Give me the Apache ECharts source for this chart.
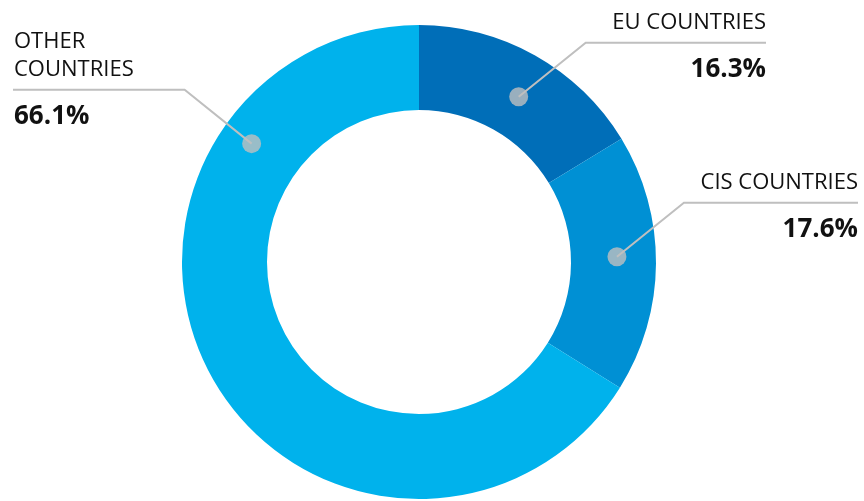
<!DOCTYPE html>
<html><head><meta charset="utf-8">
<script src="https://cdn.jsdelivr.net/npm/echarts@6/dist/echarts.min.js"></script>
<style>html,body{margin:0;padding:0;background:#fff}#c{width:864px;height:501px}</style>
</head><body><div id="c"></div>
<script>
const categories = ['EU COUNTRIES', 'CIS COUNTRIES', 'OTHER\nCOUNTRIES'];
const shares = [16.3, 17.6, 66.1];
const valueLabels = ['16.3%', '17.6%', '66.1%'];

const colors = ['#006EB8', '#0090D4', '#00B2EC'];
const CX = 419, CY = 262, R_IN = 152, R_OUT = 237;
const FONT = '"Open Sans", "Noto Sans", sans-serif';
// label anchor: fraction inside slice, dot radius, side and text edge
const anchors = [
  {f: 0.53, r: 193, side: 'right', edge: 766},
  {f: 0.47, r: 198, side: 'right', edge: 858},
  {f: 0.77, r: 205, side: 'left', edge: 14}
];
const total = shares.reduce((a, b) => a + b, 0);
let cum = 0;
const anchorPct = shares.map((v, i) => { const p = (cum + v * anchors[i].f) / total * 100; cum += v; return p; });
function anchorPx(i) {
  const th = anchorPct[i] / 100 * 2 * Math.PI;
  return [CX + anchors[i].r * Math.sin(th), CY - anchors[i].r * Math.cos(th)];
}

const pieData = categories.map((c, i) => ({name: c, value: shares[i], itemStyle: {color: colors[i]}}));

const chart = echarts.init(document.getElementById('c'), null, {renderer: 'canvas'});
chart.setOption({
  animation: false,
  polar: {center: [CX, CY], radius: R_OUT},
  angleAxis: {type: 'value', min: 0, max: 100, startAngle: 90, clockwise: true, show: false},
  radiusAxis: {type: 'value', min: 0, max: R_OUT, show: false},
  series: [
    {
      type: 'pie',
      z: 1,
      center: [CX, CY],
      radius: [R_IN, R_OUT],
      startAngle: 90,
      clockwise: true,
      silent: true,
      label: {show: false},
      labelLine: {show: false},
      data: pieData
    },
    {
      type: 'pie',
      z: 5,
      center: [CX, CY],
      radius: [R_IN, R_OUT],
      startAngle: 90,
      clockwise: true,
      silent: true,
      avoidLabelOverlap: false,
      itemStyle: {color: 'rgba(0,0,0,0)', borderWidth: 0},
      data: categories.map((c, i) => ({name: c, value: shares[i]})),
      label: {
        show: true,
        position: 'outside',
        color: '#111',
        formatter: p => p.name.split('\n').map(s => '{n|' + s + '}').join('\n') + '\n{v|' + valueLabels[p.dataIndex] + '}',
        rich: {
          n: {fontFamily: FONT, fontSize: 22, lineHeight: 28, color: '#111'},
          v: {fontFamily: FONT, fontSize: 26, fontWeight: 'bold', lineHeight: 66, color: '#111'}
        }
      },
      labelLine: {show: true, showAbove: true, lineStyle: {color: '#BFBFBF', width: 2}},
      labelLayout: function (params) {
        const i = params.dataIndex;
        const a = anchors[i];
        const [dx, dy] = anchorPx(i);
        const ly = dy - 54;
        const ex = dx + (a.side === 'right' ? 67 : -67);
        const nLines = categories[i].split('\n').length;
        return {
          x: a.edge,
          y: ly - 34 - 28 * (nLines - 1),
          align: a.side,
          verticalAlign: 'top',
          labelLinePoints: [[dx, dy], [ex, ly], [a.side === 'right' ? a.edge : a.edge - 1, ly]]
        };
      }
    },
    {
      type: 'scatter',
      coordinateSystem: 'polar',
      z: 10,
      silent: true,
      symbol: 'circle',
      symbolSize: 19,
      itemStyle: {color: '#BFBFBF'},
      data: anchors.map((a, i) => [a.r, anchorPct[i]])
    }
  ]
});
</script>
</body></html>
